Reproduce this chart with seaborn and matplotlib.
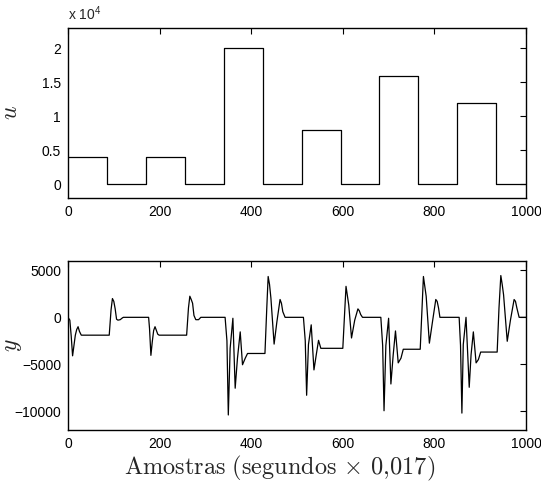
import numpy as np
import pandas as pd
import seaborn as sns
import matplotlib.pyplot as plt

# input signal u (step levels, held until the next breakpoint)
u_t = [0, 85, 170, 255, 340, 425, 510, 595, 680, 765, 850, 935, 1000]
u_val = [4000, 0, 4000, 0, 20000, 0, 8000, 0, 16000, 0, 12000, 0, 0]

# output signal y (breakpoints)
y_t = [0, 4, 7, 10, 13, 16, 19, 22, 25, 29, 90, 94, 97, 100, 103, 106, 109, 114, 119, 121,
       176, 178, 181, 184, 187, 190, 193, 196, 199,
       259, 263, 266, 269, 272, 275, 279, 285, 290,
       343, 347, 350, 354, 360, 365, 370, 376, 381, 387, 392,
       430, 434, 437, 440, 443, 450, 456, 463, 466, 469, 474,
       514, 518, 521, 525, 531, 537, 542, 547, 552,
       600, 604, 607, 610, 613, 619, 626, 633, 636, 639, 643,
       683, 687, 690, 694, 700, 705, 710, 715, 721, 727, 732,
       769, 773, 776, 779, 782, 789, 796, 803, 806, 809, 812,
       854, 857, 860, 863, 869, 876, 880, 885, 891, 896, 901,
       937, 941, 945, 948, 951, 959, 966, 974, 977, 980, 985, 1000]
y_val = [0, -300, -2000, -4100, -3000, -1900, -1300, -1000, -1500, -1900,
         -1900, 800, 2000, 1700, 900, -200, -300, -250, -50, 0,
         0, -1200, -4050, -2600, -1400, -1000, -1400, -1800, -1900,
         -1900, 1000, 2250, 1900, 1500, 200, -250, -250, 0,
         0, -2500, -10400, -3300, -100, -7550, -4350, -1550, -5050, -4350, -3850,
         -3850, 1000, 4350, 3500, 2050, -2850, -500, 1900, 1500, 600, 0,
         0, -2500, -8300, -2900, -800, -5600, -4000, -2450, -3300,
         -3300, 500, 3300, 2300, 1300, -2200, -300, 900, 700, 300, 0,
         0, -3000, -9950, -3000, -100, -7100, -4000, -1450, -4850, -4350, -3400,
         -3400, 1000, 4350, 3300, 2250, -2750, -400, 1900, 1700, 1000, 0,
         0, -3000, -10200, -2900, 0, -7450, -4000, -1550, -4850, -4500, -3700,
         -3700, 1000, 4450, 3500, 2400, -2550, -300, 1900, 1700, 1000, 0, 0]

df_u = pd.DataFrame({"t": u_t, "u": u_val})
df_y = pd.DataFrame({"t": y_t, "y": y_val})

sns.set_style("white")
plt.rcParams['font.family'] = ['Liberation Sans', 'DejaVu Sans']
plt.rcParams['mathtext.fontset'] = 'cm'

fig = plt.figure(figsize=(5.41, 4.93), dpi=100)
ax1 = fig.add_axes([0.1257, 0.5984, 0.8466, 0.3448])
ax2 = fig.add_axes([0.1257, 0.1278, 0.8466, 0.3428])

sns.lineplot(data=df_u, x="t", y="u", ax=ax1, color='black', linewidth=0.9,
             drawstyle='steps-post', estimator=None)
sns.lineplot(data=df_y, x="t", y="y", ax=ax2, color='black', linewidth=0.9,
             estimator=None)

for ax in (ax1, ax2):
    ax.set_xlim(0, 1000)
    ax.set_xticks([0, 200, 400, 600, 800, 1000])
    ax.tick_params(direction='in', length=4, width=0.8, top=True, right=True,
                   labelsize=10, colors='black', pad=5)
    for s in ax.spines.values():
        s.set_color('black')
        s.set_linewidth(1.0)
    ax.set_xlabel('')

ax1.set_ylim(-2000, 23000)
ax1.set_yticks([0, 5000, 10000, 15000, 20000])
ax1.set_yticklabels(['0', '0.5', '1', '1.5', '2'])
ax1.text(0, 1.03, r'x 10$^{\mathdefault{4}}$', transform=ax1.transAxes, fontsize=10,
         ha='left', va='bottom')
ax1.set_ylabel(r'$u$', fontsize=17)
ax1.yaxis.set_label_coords(-0.10, 0.5)

ax2.set_ylim(-12000, 6000)
ax2.set_yticks([5000, 0, -5000, -10000])
ax2.set_ylabel(r'$y$', fontsize=17)
ax2.yaxis.set_label_coords(-0.095, 0.5)

fig.text(0.516, 0.05, r'$\mathrm{Amostras\ (segundos}\,\times\,\mathrm{0{,}017)}$',
         ha='center', va='center', fontsize=17.5)

fig.savefig('out.png', dpi=100, facecolor='white')
